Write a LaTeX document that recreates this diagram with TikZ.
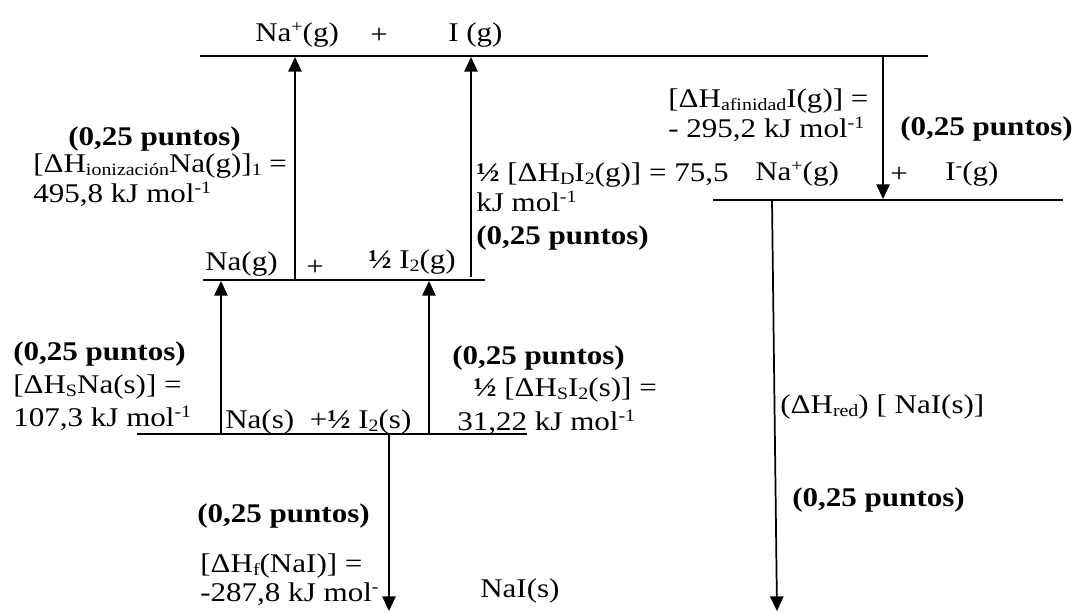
\documentclass[tikz,border=0pt]{standalone}
\usepackage{fontspec}
\setmainfont[FakeStretch=1.15]{Liberation Serif}
\usetikzlibrary{arrows.meta}
\newcommand\sps[1]{\raisebox{0.33em}{\fontsize{13}{13}\selectfont #1}}
\newcommand\sbs[1]{\raisebox{-0.14em}{\fontsize{13}{13}\selectfont #1}}
\begin{document}
\begin{tikzpicture}[x=0.75pt,y=-0.75pt,
  txt/.style={anchor=base west,inner sep=0pt,font=\fontsize{20.25}{24}\selectfont},
  pts/.style={anchor=base west,inner sep=0pt,font=\fontsize{20.25}{24}\selectfont\bfseries},
  level/.style={line width=1.6pt},
  arr/.style={line width=1.3pt,-{Triangle[width=10pt,length=11pt]}}]
\useasboundingbox (0,0) rectangle (1077,612);
% energy levels
\coordinate (T1) at (200,56);  \coordinate (T2) at (928,56);
\coordinate (R1) at (713,200); \coordinate (R2) at (1063,200);
\coordinate (M1) at (203,280); \coordinate (M2) at (485,280);
\coordinate (L1) at (137,434); \coordinate (L2) at (527,434);
\draw[level] (T1) -- (T2);
\draw[level] (R1) -- (R2);
\draw[level] (M1) -- (M2);
\draw[level] (L1) -- (L2);
% arrow end points
\coordinate (a1s) at (295,280); \coordinate (a1e) at (295,57);
\coordinate (a2s) at (471,277); \coordinate (a2e) at (471,57);
\coordinate (a3s) at (221,434); \coordinate (a3e) at (221,281);
\coordinate (a4s) at (429,434); \coordinate (a4e) at (429,281);
\coordinate (a5s) at (883,56);  \coordinate (a5e) at (883,199);
\coordinate (a6s) at (389,434); \coordinate (a6e) at (389,611);
\coordinate (a7s) at (772,200); \coordinate (a7e) at (777,611);
\draw[arr] (a1s) -- (a1e);
\draw[arr] (a2s) -- (a2e);
\draw[arr] (a3s) -- (a3e);
\draw[arr] (a4s) -- (a4e);
\draw[arr] (a5s) -- (a5e);
\draw[arr] (a6s) -- (a6e);
\draw[arr] (a7s) -- (a7e);
% top level
\node[txt] (naTop) at (255,41) {Na\sps{+}(g)};
\node[txt] (plTop) at (370,43) {+};
\node[txt] (iTop) at (448,41) {I (g)};
% ionization
\node[pts] (p1) at (68,145) {(0,25 puntos)};
\node[txt] (e1a) at (33,172) {[ΔH\sbs{ionización}Na(g)]\sbs{1} =};
\node[txt] (e1b) at (33,202) {495,8 kJ mol\sps{-1}};
% middle level
\node[txt] (nag) at (205,270) {Na(g)};
\node[txt] (plM) at (306,275) {+};
\node[txt] (i2g) at (368,268) {\textbf{½} I\sbs{2}(g)};
% dissociation
\node[txt] (e2a) at (476,181) {\textbf{½} [ΔH\sbs{D}I\sbs{2}(g)] = 75,5};
\node[txt] (e2b) at (476,211) {kJ mol\sps{-1}};
\node[pts] (p2) at (476,244) {(0,25 puntos)};
% affinity
\node[txt] (e3a) at (668,107) {[ΔH\sbs{afinidad}I(g)] =};
\node[txt] (e3b) at (668,137) {- 295,2 kJ mol\sps{-1}};
\node[pts] (p3) at (900,135) {(0,25 puntos)};
\node[txt] (naR) at (755,180) {Na\sps{+}(g)};
\node[txt] (plR) at (890,182) {+};
\node[txt] (iR) at (945,180) {I\sps{-}(g)};
% sublimation Na
\node[pts] (p4) at (13,360) {(0,25 puntos)};
\node[txt] (e4a) at (13,393) {[ΔH\sbs{S}Na(s)] =};
\node[txt] (e4b) at (13,426) {107,3 kJ mol\sps{-1}};
% lower level
\node[txt] (nas) at (225,428) {Na(s)\ \ +\textbf{½} I\sbs{2}(s)};
% sublimation I2
\node[pts] (p5) at (452,364) {(0,25 puntos)};
\node[txt] (e5a) at (473,396) {\textbf{½} [ΔH\sbs{S}I\sbs{2}(s)] =};
\node[txt] (e5b) at (457,430) {31,22 kJ mol\sps{-1}};
% lattice
\node[txt] (red) at (780,413) {(ΔH\sbs{red}) [ NaI(s)]};
\node[pts] (p6) at (792,506) {(0,25 puntos)};
% formation
\node[pts] (p7) at (197,522) {(0,25 puntos)};
\node[txt] (e7a) at (200,572) {[ΔH\sbs{f}(NaI)] =};
\node[txt] (e7b) at (200,601) {-287,8 kJ mol\sps{-}};
\node[txt] (nai) at (480,597) {NaI(s)};
\end{tikzpicture}
\end{document}
